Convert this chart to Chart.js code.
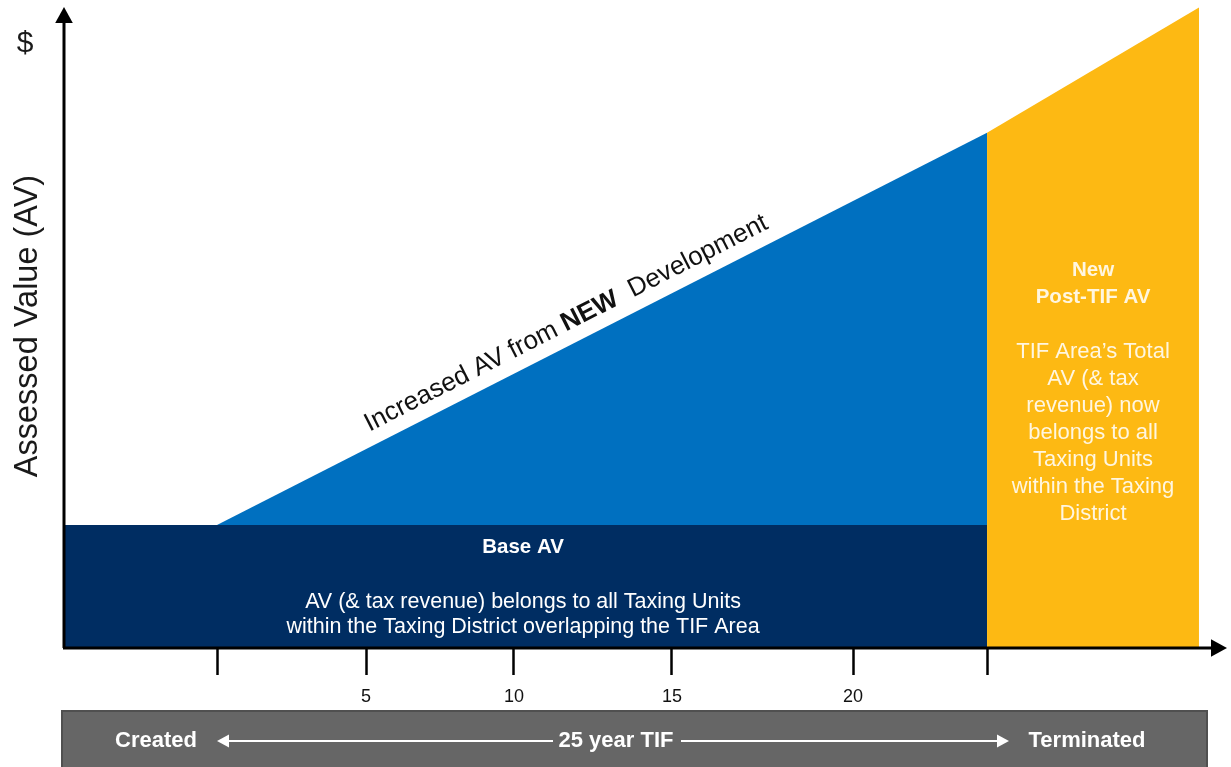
<!DOCTYPE html>
<html>
<head>
<meta charset="utf-8">
<script src="https://cdn.jsdelivr.net/npm/chart.js@4"></script>
<style>
  body { margin: 0; background: #fff; overflow: hidden; }
  #wrap { width: 1231px; height: 767px; }
</style>
</head>
<body>
<div id="wrap"><canvas id="tif" width="1231" height="767"></canvas></div>
<script>
// years since the TIF was created (x) and assessed value in units of base AV (y)
const baseX = [-5, 25];
const baseY = [1, 1];
const newDevX = [0, 25];
const newDevY = [1, 4.19];
const postTifX = [25, 31.88];
const postTifY = [4.19, 5.21];

// tick marks as drawn on the picture (not evenly spaced there)
const tickAt = [0, 4.84, 9.64, 14.77, 20.65, 25];
const tickLabels = ['', '5', '10', '15', '20', ''];

const navy = '#002D62';
const blue = '#0070C0';
const gold = '#FDB913';
const FONT = 'Arial, "Liberation Sans", sans-serif';

function pts(xs, ys) {
    return xs.map((x, i) => ({ x: x, y: ys[i] }));
}

function arrowHead(ctx, x, y, dir, size) {
    ctx.save();
    ctx.translate(x, y);
    ctx.rotate(dir);
    ctx.beginPath();
    ctx.moveTo(0, 0);
    ctx.lineTo(-size, -size * 0.55);
    ctx.lineTo(-size, size * 0.55);
    ctx.closePath();
    ctx.fill();
    ctx.restore();
}

const decor = {
    id: 'decor',
    afterDraw(chart) {
        const ctx = chart.ctx;
        const xs = chart.scales.x, ys = chart.scales.y;
        const ca = chart.chartArea;
        ctx.save();

        // axes with arrows
        ctx.strokeStyle = '#000';
        ctx.fillStyle = '#000';
        ctx.lineWidth = 3;
        const ax = ca.left + 1;
        ctx.beginPath();
        ctx.moveTo(ax, ca.bottom);
        ctx.lineTo(ax, 20);
        ctx.stroke();
        arrowHead(ctx, ax, 7, -Math.PI / 2, 16);
        ctx.beginPath();
        ctx.moveTo(ca.left, ca.bottom);
        ctx.lineTo(ca.right - 14, ca.bottom);
        ctx.stroke();
        arrowHead(ctx, ca.right, ca.bottom, 0, 16);

        // y axis labels
        ctx.fillStyle = '#1a1a1a';
        ctx.textAlign = 'center';
        ctx.textBaseline = 'middle';
        ctx.font = '30px ' + FONT;
        ctx.fillText('$', 25, 44);
        ctx.save();
        ctx.translate(28, 326);
        ctx.rotate(-Math.PI / 2);
        ctx.font = '32.5px ' + FONT;
        ctx.fillText('Assessed Value (AV)', 0, 0);
        ctx.restore();

        // text along the slope of the new development area
        const x0 = xs.getPixelForValue(newDevX[0]), y0 = ys.getPixelForValue(newDevY[0]);
        const x1 = xs.getPixelForValue(newDevX[1]), y1 = ys.getPixelForValue(newDevY[1]);
        const ang = Math.atan2(y1 - y0, x1 - x0);
        const t = 0.466;
        const mx = x0 + (x1 - x0) * t, my = y0 + (y1 - y0) * t;
        const off = 14;
        ctx.save();
        ctx.translate(mx + Math.sin(ang) * off, my - Math.cos(ang) * off);
        ctx.rotate(ang);
        ctx.textAlign = 'left';
        ctx.textBaseline = 'alphabetic';
        ctx.fillStyle = '#111';
        const normal = '26px ' + FONT;
        const bold = 'bold 26px ' + FONT;
        const parts = [['Increased AV from ', normal], ['NEW', bold], ['  Development', normal]];
        let total = 0;
        parts.forEach(p => { ctx.font = p[1]; total += ctx.measureText(p[0]).width; });
        let cx = -total / 2;
        parts.forEach(p => {
            ctx.font = p[1];
            ctx.fillText(p[0], cx, 0);
            cx += ctx.measureText(p[0]).width;
        });
        ctx.restore();

        // base AV text
        const bx = (xs.getPixelForValue(baseX[0]) + xs.getPixelForValue(baseX[1])) / 2;
        ctx.fillStyle = '#fff';
        ctx.textAlign = 'center';
        ctx.textBaseline = 'middle';
        ctx.font = 'bold 20.5px ' + FONT;
        ctx.fillText('Base AV', bx - 2, 547);
        ctx.font = '21.5px ' + FONT;
        ctx.fillText('AV (& tax revenue) belongs to all Taxing Units', bx - 2, 602);
        ctx.fillText('within the Taxing District overlapping the TIF Area', bx - 2, 627);

        // post TIF text
        const px = (xs.getPixelForValue(postTifX[0]) + xs.getPixelForValue(postTifX[1])) / 2;
        ctx.fillStyle = '#FFF6E0';
        ctx.font = 'bold 20.5px ' + FONT;
        ctx.fillText('New', px, 270);
        ctx.fillText('Post-TIF AV', px, 297);
        ctx.font = '22px ' + FONT;
        const lines = ['TIF Area\u2019s Total', 'AV (& tax', 'revenue) now', 'belongs to all',
            'Taxing Units', 'within the Taxing', 'District'];
        lines.forEach((s, i) => ctx.fillText(s, px, 352 + i * 27));

        // timeline bar
        ctx.fillStyle = '#666';
        ctx.fillRect(62, 711, 1145, 60);
        ctx.strokeStyle = '#505050';
        ctx.lineWidth = 2;
        ctx.strokeRect(62, 711, 1145, 60);
        ctx.fillStyle = '#fff';
        ctx.strokeStyle = '#fff';
        ctx.font = 'bold 22px ' + FONT;
        ctx.fillText('Created', 156, 741);
        ctx.fillText('25 year TIF', 616, 741);
        ctx.fillText('Terminated', 1087, 741);
        ctx.lineWidth = 2;
        ctx.beginPath();
        ctx.moveTo(226, 741); ctx.lineTo(553, 741);
        ctx.moveTo(681, 741); ctx.lineTo(1000, 741);
        ctx.stroke();
        arrowHead(ctx, 217, 741, Math.PI, 12);
        arrowHead(ctx, 1009, 741, 0, 12);

        ctx.restore();
    }
};

new Chart(document.getElementById('tif'), {
    type: 'line',
    data: {
        datasets: [
            {
                label: 'Base AV',
                data: pts(baseX, baseY),
                backgroundColor: navy,
                borderColor: 'transparent',
                borderWidth: 0,
                pointRadius: 0,
                fill: 'origin'
            },
            {
                label: 'Increased AV',
                data: pts(newDevX, newDevY),
                backgroundColor: blue,
                borderColor: 'transparent',
                borderWidth: 0,
                pointRadius: 0,
                fill: { value: 1 }
            },
            {
                label: 'Post-TIF AV',
                data: pts(postTifX, postTifY),
                backgroundColor: gold,
                borderColor: 'transparent',
                borderWidth: 0,
                pointRadius: 0,
                fill: 'origin'
            }
        ]
    },
    options: {
        responsive: false,
        animation: false,
        devicePixelRatio: 1,
        layout: { padding: { left: 63, right: 4, top: 0, bottom: 0 } },
        plugins: { legend: { display: false }, tooltip: { enabled: false } },
        scales: {
            x: {
                type: 'linear',
                min: -5,
                max: 32.79,
                afterBuildTicks: s => { s.ticks = tickAt.map(v => ({ value: v })); },
                afterFit: s => { s.height = 119; },
                border: { display: false },
                grid: {
                    drawOnChartArea: false,
                    drawTicks: true,
                    tickLength: 27,
                    tickWidth: 2.5,
                    tickColor: '#000'
                },
                ticks: {
                    autoSkip: false,
                    maxRotation: 0,
                    padding: 11,
                    color: '#111',
                    font: { family: FONT, size: 18 },
                    callback: (v, i) => tickLabels[i]
                }
            },
            y: {
                display: false,
                min: 0,
                max: 5.27
            }
        }
    },
    plugins: [decor]
});
</script>
</body>
</html>
